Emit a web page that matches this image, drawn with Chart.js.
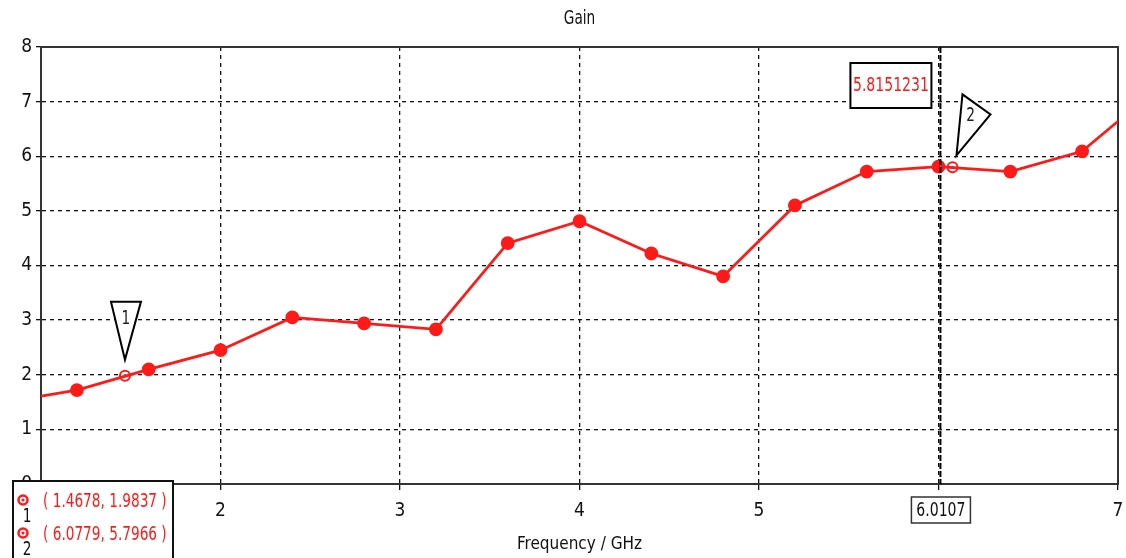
<!DOCTYPE html>
<html>
<head>
<meta charset="utf-8">
<script src="https://cdn.jsdelivr.net/npm/chart.js@4.4.1/dist/chart.umd.min.js"></script>
<style>
  html, body { margin: 0; padding: 0; background: #fff; }
  #wrap { width: 1126px; height: 558px; position: relative; }
</style>
</head>
<body>
<div id="wrap"><canvas id="chart1"></canvas></div>
<script>
const freq = [1.0, 1.2, 1.6, 2.0, 2.4, 2.8, 3.2, 3.6, 4.0, 4.4, 4.8, 5.2, 5.6, 6.0, 6.4, 6.8, 7.0];
const gain = [1.61, 1.72, 2.10, 2.45, 3.05, 2.94, 2.83, 4.41, 4.81, 4.22, 3.80, 5.10, 5.72, 5.81, 5.72, 6.09, 6.64];
const dotShown = [false, true, true, true, true, true, true, true, true, true, true, true, true, true, true, true, false];
const markerNames = ['1', '2'];
const markerX = [1.4678, 6.0779];
const markerY = [1.9837, 5.7966];
const cursorX = 6.0107;
const cursorLabel = '5.8151231';
const xTicks = [1, 2, 3, 4, 5, 6, 7];
const yTicks = [0, 1, 2, 3, 4, 5, 6, 7, 8];

const FONT = '"DejaVu Sans Condensed", "Liberation Sans Narrow", sans-serif';
const RED = '#ff1a1a';

// narrow text, squeezed horizontally like the original
function narrow(ctx, text, x, y, size, sx, align) {
  ctx.save();
  ctx.font = size + 'px ' + FONT;
  ctx.textAlign = align || 'center';
  ctx.textBaseline = 'middle';
  ctx.translate(x, y);
  ctx.scale(sx, 1);
  ctx.fillText(text, 0, 0);
  ctx.restore();
}

const overlay = {
  id: 'overlay',
  afterDatasetsDraw(chart) {
    const { ctx, chartArea: a, scales: { x, y } } = chart;
    ctx.save();

    // title over the plot centre
    ctx.fillStyle = '#111';
    narrow(ctx, 'Gain', (a.left + a.right) / 2, 19, 19, 0.8);

    // cursor line
    const cx = x.getPixelForValue(cursorX);
    ctx.strokeStyle = '#000';
    ctx.lineWidth = 2;
    ctx.setLineDash([6, 2]);
    ctx.beginPath();
    ctx.moveTo(cx, a.top);
    ctx.lineTo(cx, a.bottom);
    ctx.stroke();
    ctx.setLineDash([]);

    // cursor value box
    ctx.lineWidth = 2;
    ctx.fillStyle = '#fff';
    ctx.fillRect(cx - 90, 63, 81, 45);
    ctx.strokeRect(cx - 90, 63, 81, 45);
    ctx.fillStyle = RED;
    narrow(ctx, cursorLabel, cx - 49.5, 86, 20, 0.78);

    // x box at bottom
    ctx.lineWidth = 1.5;
    ctx.fillStyle = '#fff';
    ctx.fillRect(cx - 29, a.bottom + 13, 59, 26);
    ctx.strokeStyle = '#333';
    ctx.strokeRect(cx - 29, a.bottom + 13, 59, 26);
    ctx.fillStyle = '#111';
    narrow(ctx, cursorX.toFixed(4), cx + 0.5, a.bottom + 26.5, 20, 0.78);

    // marker inner dots and flags
    for (let i = 0; i < markerX.length; i++) {
      const px = x.getPixelForValue(markerX[i]);
      const py = y.getPixelForValue(markerY[i]);
      ctx.fillStyle = RED;
      ctx.beginPath();
      ctx.arc(px, py, 1.6, 0, Math.PI * 2);
      ctx.fill();

      ctx.strokeStyle = '#000';
      ctx.lineWidth = 2;
      ctx.fillStyle = '#fff';
      ctx.beginPath();
      if (i === 0) {
        ctx.moveTo(px - 14, py - 74);
        ctx.lineTo(px + 16, py - 74);
        ctx.lineTo(px, py - 16);
      } else {
        ctx.moveTo(px + 10, py - 73);
        ctx.lineTo(px + 38, py - 53);
        ctx.lineTo(px + 4, py - 12);
      }
      ctx.closePath();
      ctx.fill();
      ctx.stroke();
      ctx.fillStyle = '#1a1a2a';
      if (i === 0) narrow(ctx, markerNames[i], px + 1, py - 57, 19, 0.8);
      else narrow(ctx, markerNames[i], px + 18, py - 51, 19, 0.8);
    }

    // legend box bottom-left
    ctx.fillStyle = '#fff';
    ctx.fillRect(13, 481, 160, 90);
    ctx.strokeStyle = '#111';
    ctx.lineWidth = 2;
    ctx.strokeRect(13, 481, 160, 90);
    for (let i = 0; i < markerX.length; i++) {
      const ly = 502 + i * 33;
      ctx.strokeStyle = RED;
      ctx.lineWidth = 2.5;
      ctx.beginPath();
      ctx.arc(23, ly - 2, 4.5, 0, Math.PI * 2);
      ctx.stroke();
      ctx.fillStyle = RED;
      ctx.beginPath();
      ctx.arc(23, ly - 2, 1.6, 0, Math.PI * 2);
      ctx.fill();
      ctx.fillStyle = '#111';
      narrow(ctx, markerNames[i], 27, ly + 15, 19, 0.8);
      ctx.fillStyle = RED;
      narrow(ctx, '( ' + markerX[i].toFixed(4) + ', ' + markerY[i].toFixed(4) + ' )', 43, ly, 20, 0.76, 'left');
    }
    ctx.restore();
  }
};

const ctx1 = document.getElementById('chart1').getContext('2d');
new Chart(ctx1, {
  type: 'line',
  data: {
    datasets: [{
      label: 'Gain',
      data: freq.map((f, i) => ({ x: f, y: gain[i] })),
      borderColor: RED,
      backgroundColor: RED,
      borderWidth: 2.8,
      tension: 0,
      pointRadius: dotShown.map(s => s ? 5.5 : 0),
      pointBackgroundColor: RED,
      pointBorderColor: RED
    }, {
      label: 'Markers',
      data: markerX.map((m, i) => ({ x: m, y: markerY[i] })),
      showLine: false,
      pointRadius: 5,
      pointBorderWidth: 2,
      pointBackgroundColor: '#fff',
      pointBorderColor: RED
    }]
  },
  options: {
    responsive: true,
    maintainAspectRatio: false,
    animation: false,
    layout: { padding: { top: 47, right: 8, left: 0, bottom: 0 } },
    plugins: {
      legend: { display: false },
      tooltip: { enabled: false },
      title: { display: false }
    },
    scales: {
      x: {
        type: 'linear',
        min: 1,
        max: 7,
        afterBuildTicks: s => { s.ticks = xTicks.map(v => ({ value: v })); },
        afterFit: s => { s.height = 74; s.paddingRight = 0; s.paddingLeft = 0; },
        grid: { color: '#111', lineWidth: 1.3, tickLength: 6, tickColor: '#111' },
        border: { display: true, color: '#333', width: 2, dash: [4, 4] },
        ticks: { color: '#111', font: { family: FONT, size: 19 }, padding: 10 },
        title: { display: true, text: 'Frequency / GHz', color: '#111', font: { family: FONT, size: 17 }, padding: { top: 2, bottom: 3 } }
      },
      y: {
        min: 0,
        max: 8,
        afterBuildTicks: s => { s.ticks = yTicks.map(v => ({ value: v })); },
        afterFit: s => { s.width = 41; },
        grid: { color: '#111', lineWidth: 1.3, tickLength: 5, tickColor: '#111' },
        border: { display: true, color: '#333', width: 2, dash: [4, 4] },
        ticks: { color: '#111', font: { family: FONT, size: 19 }, padding: 4 }
      }
    }
  },
  plugins: [{
    id: 'frame',
    beforeDatasetsDraw(chart) {
      const { ctx, chartArea: a } = chart;
      ctx.save();
      ctx.strokeStyle = '#333';
      ctx.lineWidth = 2;
      ctx.strokeRect(a.left, a.top, a.right - a.left, a.bottom - a.top);
      ctx.restore();
    }
  }, overlay]
});
</script>
</body>
</html>
